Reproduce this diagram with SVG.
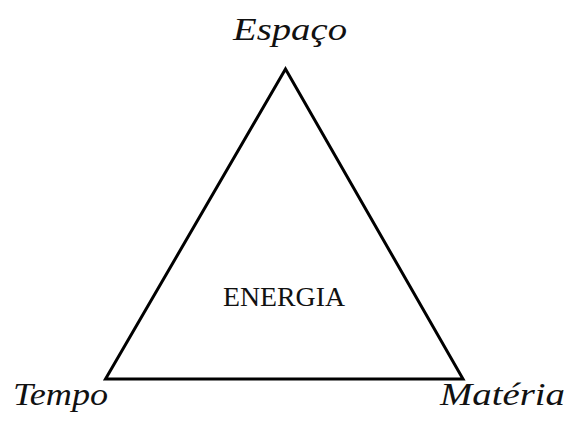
<svg xmlns="http://www.w3.org/2000/svg" width="571" height="425" viewBox="0 0 571 425">
<style>
.script{font-family:"Liberation Serif","DejaVu Serif",serif;font-style:italic;font-size:32px;fill:#111}
.center{font-family:"Liberation Serif","DejaVu Serif",serif;font-size:27px;fill:#111}
.edge{stroke:#000;stroke-width:3;fill:none;stroke-linejoin:miter}
</style>
<rect width="571" height="425" fill="#fff"/>
<g id="connectors">
<polygon class="edge" points="285.5,69 105.5,379 463,379"/>
</g>
<g id="energia"><text class="center" x="284" y="306" text-anchor="middle" textLength="122" lengthAdjust="spacingAndGlyphs">ENERGIA</text></g>
<g id="espaco"><text class="script" x="233" y="40" textLength="114" lengthAdjust="spacingAndGlyphs">Espaço</text></g>
<g id="tempo"><text class="script" x="13" y="405" textLength="95" lengthAdjust="spacingAndGlyphs">Tempo</text></g>
<g id="materia"><text class="script" x="440" y="405" textLength="125" lengthAdjust="spacingAndGlyphs">Matéria</text></g>
</svg>
